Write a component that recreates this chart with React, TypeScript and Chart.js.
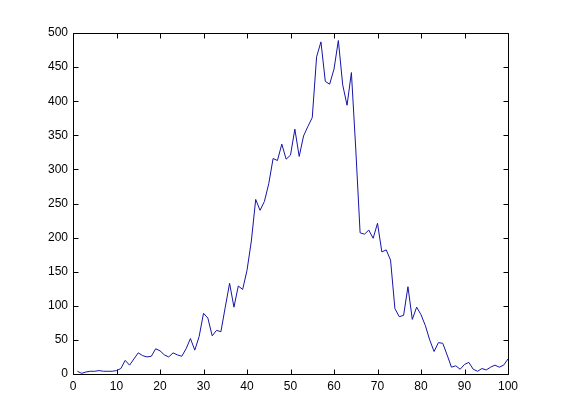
import React, { useEffect, useRef } from 'react';
import { Chart, registerables } from 'chart.js';

Chart.register(...registerables);

const xValues = [
  1, 2, 3, 4, 5, 6, 7, 8, 9, 10,
  11, 12, 13, 14, 15, 16, 17, 18, 19, 20,
  21, 22, 23, 24, 25, 26, 27, 28, 29, 30,
  31, 32, 33, 34, 35, 36, 37, 38, 39, 40,
  41, 42, 43, 44, 45, 46, 47, 48, 49, 50,
  51, 52, 53, 54, 55, 56, 57, 58, 59, 60,
  61, 62, 63, 64, 65, 66, 67, 68, 69, 70,
  71, 72, 73, 74, 75, 76, 77, 78, 79, 80,
  81, 82, 83, 84, 85, 86, 87, 88, 89, 90,
  91, 92, 93, 94, 95, 96, 97, 98, 99, 100,
];

const yValues = [
  4, 1, 3, 4, 4, 5, 4, 4, 4, 5,
  8, 20, 13, 22, 31, 27, 25, 26, 37, 34,
  28, 25, 31, 28, 26, 37, 52, 35, 55, 89,
  82, 56, 64, 62, 98, 133, 98, 129, 124, 152,
  195, 256, 240, 253, 279, 316, 313, 337, 315, 321,
  359, 319, 349, 363, 376, 465, 487, 429, 425, 447,
  489, 424, 394, 442, 330, 207, 205, 211, 199, 221,
  179, 182, 167, 96, 84, 86, 128, 80, 98, 87,
  71, 50, 33, 46, 45, 28, 10, 12, 7, 14,
  17, 7, 4, 8, 6, 10, 13, 10, 13, 22,
];

const xTicks = [0, 10, 20, 30, 40, 50, 60, 70, 80, 90, 100];
const yTicks = [0, 50, 100, 150, 200, 250, 300, 350, 400, 450, 500];

const boxPlugin = {
  id: 'matlabBox',
  afterDraw(chart: any) {
    const { ctx, chartArea } = chart;
    const { left, right, top, bottom } = chartArea;
    const xs = chart.scales.x;
    const ys = chart.scales.y;
    const tl = 5;
    ctx.save();
    ctx.strokeStyle = '#000';
    ctx.lineWidth = 1;
    ctx.beginPath();
    ctx.rect(Math.round(left) + 0.5, Math.round(top) + 0.5, Math.round(right - left), Math.round(bottom - top));
    xTicks.forEach((v) => {
      const px = Math.round(xs.getPixelForValue(v)) + 0.5;
      ctx.moveTo(px, Math.round(bottom) + 0.5);
      ctx.lineTo(px, Math.round(bottom) + 0.5 - tl);
      ctx.moveTo(px, Math.round(top) + 0.5);
      ctx.lineTo(px, Math.round(top) + 0.5 + tl);
    });
    yTicks.forEach((v) => {
      const py = Math.round(ys.getPixelForValue(v)) + 0.5;
      ctx.moveTo(Math.round(left) + 0.5, py);
      ctx.lineTo(Math.round(left) + 0.5 + tl, py);
      ctx.moveTo(Math.round(right) + 0.5, py);
      ctx.lineTo(Math.round(right) + 0.5 - tl, py);
    });
    ctx.stroke();
    ctx.restore();
  },
};

export default function App() {
  const ref = useRef<HTMLCanvasElement>(null);
  useEffect(() => {
    if (!ref.current) return;
    const chart = new Chart(ref.current, {
      type: 'line',
      data: {
        datasets: [
          {
            data: xValues.map((x, i) => ({ x, y: yValues[i] })),
            borderColor: '#1414a8',
            borderWidth: 1,
            pointRadius: 0,
            tension: 0,
            fill: false,
          },
        ],
      },
      options: {
        responsive: false,
        animation: false,
        events: [],
        layout: { padding: { top: 33, right: 53, left: 0, bottom: 0 } },
        plugins: { legend: { display: false }, tooltip: { enabled: false }, title: { display: false } },
        scales: {
          x: {
            type: 'linear',
            min: 0,
            max: 100,
            afterFit: (s: any) => { s.height = 46; },
            afterBuildTicks: (s: any) => { s.ticks = xTicks.map((v) => ({ value: v })); },
            grid: { display: false, drawTicks: false },
            border: { display: false },
            ticks: {
              color: '#000',
              padding: 5,
              maxRotation: 0,
              autoSkip: false,
              font: { family: '"Liberation Sans", Arial, sans-serif', size: 12 },
              callback: (v: any) => String(v),
            },
          },
          y: {
            type: 'linear',
            min: 0,
            max: 500,
            afterFit: (s: any) => { s.width = 73; },
            afterBuildTicks: (s: any) => { s.ticks = yTicks.map((v) => ({ value: v })); },
            grid: { display: false, drawTicks: false },
            border: { display: false },
            ticks: {
              color: '#000',
              padding: 5,
              autoSkip: false,
              font: { family: '"Liberation Sans", Arial, sans-serif', size: 12 },
              callback: (v: any) => String(v),
            },
          },
        },
      },
      plugins: [boxPlugin],
    });
    return () => chart.destroy();
  }, []);
  return (
    <div style={{ position: 'absolute', left: 0, top: 0, width: 561, height: 420, background: '#fff' }}>
      <canvas ref={ref} width={561} height={420} style={{ display: 'block' }} />
    </div>
  );
}
